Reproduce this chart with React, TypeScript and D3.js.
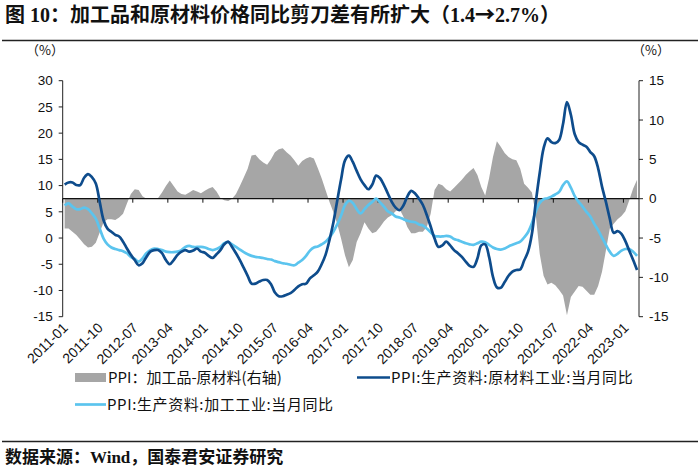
import React from "react";
import * as d3 from "d3";

// Monthly categories 2011-01 .. 2023-04
const months: string[] = d3
  .timeMonth.range(new Date(2011, 0, 1), new Date(2023, 4, 1))
  .map(d3.timeFormat("%Y-%m"));

const tickLabels = [
  "2011-01", "2011-10", "2012-07", "2013-04", "2014-01", "2014-10",
  "2015-07", "2016-04", "2017-01", "2017-10", "2018-07", "2019-04",
  "2020-01", "2020-10", "2021-07", "2022-04", "2023-01",
];

// PPI:生产资料:原材料工业:当月同比 (left axis)
const rawMaterial = [
  10.2, 10.6, 10.6, 10.1, 10.1, 11.5, 12.2, 11.6, 10.4, 6.9, 3.4, 1.8,
  1.2, 0.6, 0.3, -0.7, -2.0, -3.2, -4.2, -5.2, -4.8, -3.6, -2.6, -2.3,
  -2.3, -2.9, -4.2, -5.0, -4.2, -3.2, -2.6, -2.3, -2.6, -2.4, -2.0, -2.6,
  -2.8, -3.4, -3.8, -3.1, -2.3, -1.2, -0.7, -1.7, -2.9, -4.2, -5.7, -7.2,
  -8.7, -8.7, -8.3, -8.0, -8.0, -8.8, -10.4, -11.1, -11.1, -10.8, -10.5, -9.9,
  -9.2, -8.8, -8.7, -7.7, -7.1, -6.4, -5.0, -3.2, -0.4, 2.9, 7.1, 11.2,
  14.8, 15.7, 14.5, 12.8, 11.2, 10.1, 9.3, 10.2, 11.9, 11.4, 10.1, 8.5,
  6.9, 5.8, 5.3, 6.2, 7.9, 9.0, 8.5, 7.5, 6.3, 4.4, 2.2, -0.1,
  -1.7, -1.4, -0.7, -1.4, -2.3, -2.9, -3.6, -4.5, -5.3, -5.5, -3.9, -1.4,
  -1.2, -3.6, -7.4, -9.4, -9.5, -8.4, -7.2, -6.4, -6.1, -6.0, -4.3, -2.6,
  0.8, 6.9, 12.4, 17.1, 19.0, 18.3, 18.1, 18.7, 21.8, 25.9, 23.5, 19.8,
  18.3, 17.8, 17.4, 16.4, 15.6, 13.3, 9.8, 6.9, 3.7, 1.0, 1.3, 0.8,
  -0.6, -2.4, -4.2, -6.1,
];

// PPI:生产资料:加工工业:当月同比 (left axis)
const processing = [
  6.2, 6.6, 6.0, 5.5, 5.5, 5.8, 5.5, 4.7, 3.7, 1.8, -0.1, -1.2,
  -1.8, -2.1, -2.3, -2.5, -2.9, -3.6, -4.0, -4.5, -3.9, -2.9, -2.3, -2.0,
  -2.1, -2.3, -2.6, -2.7, -2.7, -2.6, -2.3, -1.7, -1.5, -1.7, -1.7, -1.7,
  -1.8, -2.1, -2.3, -2.1, -1.7, -1.0, -0.8, -1.2, -1.7, -2.2, -2.7, -3.1,
  -3.4, -3.6, -3.7, -3.8, -4.0, -4.1, -4.4, -4.6, -4.8, -4.9, -5.1, -5.2,
  -4.7, -4.2, -3.4, -2.4, -1.8, -1.6, -1.2, -0.7, 0.1, 1.2, 2.6, 4.3,
  6.3, 7.1, 6.7, 5.5, 4.7, 5.5, 6.3, 6.9, 7.5, 6.8, 6.0, 5.1,
  4.7, 4.1, 3.9, 3.6, 3.3, 3.1, 3.0, 2.6, 2.4, 1.8, 1.1, 0.4,
  0.3, 0.3, 0.4, 0.3, -0.2, -0.4, -0.7, -1.0, -1.2, -1.3, -1.0, -0.7,
  -0.8, -1.3, -1.8, -2.1, -2.2, -2.0, -1.6, -1.3, -1.0, -0.7, 0.1, 1.1,
  2.8, 5.1, 6.7, 7.4, 7.6, 7.9, 8.3, 8.8, 10.1, 10.8, 9.6, 8.0,
  6.9, 6.0, 5.0, 4.1, 2.7, 1.5, 0.1, -1.3, -2.6, -3.4, -3.0, -2.4,
  -2.1, -2.1, -2.6, -3.4,
];

// PPI：加工品-原材料 (right axis)
const spread = [
  -3.8, -3.8, -4.2, -4.6, -5.2, -5.8, -6.2, -6.1, -5.6, -4.3, -3.0, -2.6,
  -2.6, -2.7, -2.4, -1.9, -0.6, 0.6, 1.2, 1.1, 0.3, 0.0, 0.0, 0.0,
  0.1, 0.8, 1.6, 2.3, 1.6, 0.9, 0.6, 0.5, 0.8, 1.1, 0.9, 0.7,
  1.0, 1.3, 1.5, 0.9, 0.1, -0.2, -0.3, 0.0, 0.6, 1.6, 2.7, 3.8,
  5.5, 5.6, 5.0, 4.6, 4.3, 5.0, 5.9, 6.3, 6.4, 5.9, 5.5, 4.9,
  4.2, 4.8, 5.1, 5.3, 5.1, 3.9, 2.6, 1.1, -0.4, -1.7, -3.2, -5.1,
  -7.2, -8.7, -7.8, -5.5, -4.4, -3.0, -3.8, -4.4, -4.2, -3.6, -2.9, -2.4,
  -2.1, -1.6, -1.3, -2.3, -3.6, -4.4, -4.4, -4.2, -4.2, -3.6, -1.9, 1.1,
  1.9, 1.7, 1.2, 0.9, 1.4, 1.9, 2.4, 3.0, 3.5, 3.9, 3.0, 1.5,
  0.4, 2.6, 5.3, 7.3, 6.6, 5.8, 5.3, 5.0, 4.9, 3.8, 1.9, 1.4,
  0.8, -2.1, -7.0, -9.8, -10.9, -10.7, -11.0, -11.6, -12.3, -14.8, -12.5, -11.8,
  -11.1, -11.2, -11.7, -12.2, -12.2, -11.1, -9.3, -6.6, -3.8, -3.2, -2.6, -2.2,
  -1.6, -0.2, 1.3, 2.4,
];

const leftTicks = [30, 25, 20, 15, 10, 5, 0, -5, -10, -15];
const rightTicks = [15, 10, 5, 0, -5, -10, -15];

const W = 700;
const H = 467;
const plotLeft = 62.7;
const plotRight = 639;
const plotTop = 80.7;
const plotBottom = 316.7;

const DARK = "#0E4C8C";
const LIGHT = "#5BC4EE";
const GRAY = "#A6A6A6";

const axisFont = "'Liberation Sans', Arial, sans-serif";
const cjkFont = "'Noto Sans CJK SC', sans-serif";
const titleFont = "'Liberation Serif', 'Noto Sans CJK SC', serif";

export default function App() {
  const x = d3.scaleBand<string>().domain(months).range([plotLeft, plotRight]).paddingInner(0).paddingOuter(0);
  const bw = x.bandwidth();
  const cx = (i: number) => (x(months[i]) as number) + bw / 2;
  const yL = d3.scaleLinear().domain([-15, 30]).range([plotBottom, plotTop]);
  const yR = d3.scaleLinear().domain([-15, 15]).range([plotBottom, plotTop]);
  const zeroY = yR(0);

  const area = d3
    .area<number>()
    .x((_, i) => cx(i))
    .y0(() => yR(0))
    .y1((d) => yR(d))
    .curve(d3.curveLinear);

  const line = d3
    .line<number>()
    .x((_, i) => cx(i))
    .y((d) => yL(d))
    .curve(d3.curveCatmullRom.alpha(0.5));

  return (
    <svg
      width={W}
      height={H}
      viewBox={`0 0 ${W} ${H}`}
      style={{ position: "fixed", left: 0, top: 0, background: "#fff" }}
    >
      <rect x={0} y={0} width={W} height={H} fill="#fff" />
      {/* Title */}
      <text x={5} y={21.5} fontFamily={titleFont} fontWeight={700} fontSize={20} fill="#111">
        图 10：加工品和原材料价格同比剪刀差有所扩大（1.4
        <tspan fontFamily={cjkFont} fontWeight={900}>→</tspan>
        2.7%）
      </text>
      <line x1={2} x2={698} y1={40.5} y2={40.5} stroke="#222" strokeWidth={1.6} />

      {/* Unit labels */}
      <text x={45} y={55} textAnchor="middle" fontFamily={cjkFont} fontSize={13} fill="#111">（%）</text>
      <text x={651} y={55} textAnchor="middle" fontFamily={cjkFont} fontSize={13} fill="#111">（%）</text>

      {/* Spread area (right axis) */}
      <path d={area(spread) || ""} fill={GRAY} stroke="none" />

      {/* Left axis */}
      <line x1={plotLeft} x2={plotLeft} y1={plotTop} y2={plotBottom} stroke="#222" strokeWidth={1} />
      {leftTicks.map((t) => (
        <g key={"l" + t}>
          <line x1={plotLeft - 4} x2={plotLeft} y1={yL(t)} y2={yL(t)} stroke="#222" strokeWidth={1} />
          <text
            x={plotLeft - 10}
            y={yL(t)}
            dy="0.35em"
            textAnchor="end"
            fontFamily={axisFont}
            fontSize={13.5}
            fill="#111"
          >
            {t}
          </text>
        </g>
      ))}

      {/* Right axis */}
      <line x1={plotRight} x2={plotRight} y1={plotTop} y2={plotBottom} stroke="#222" strokeWidth={1} />
      {rightTicks.map((t) => (
        <g key={"r" + t}>
          <line x1={plotRight} x2={plotRight + 4} y1={yR(t)} y2={yR(t)} stroke="#222" strokeWidth={1} />
          <text
            x={plotRight + 10}
            y={yR(t)}
            dy="0.35em"
            textAnchor="start"
            fontFamily={axisFont}
            fontSize={13.5}
            fill="#111"
          >
            {t}
          </text>
        </g>
      ))}

      {/* Category axis on zero line */}
      <line x1={plotLeft} x2={plotRight} y1={zeroY} y2={zeroY} stroke="#111" strokeWidth={1.3} />
      {tickLabels.map((m) => {
        const tx = x(m) as number;
        return (
          <g key={m}>
            <line x1={tx} x2={tx} y1={zeroY} y2={zeroY + 4} stroke="#111" strokeWidth={1} />
            <text
              transform={`translate(${tx + 6},${plotBottom + 12}) rotate(-45)`}
              textAnchor="end"
              fontFamily={axisFont}
              fontSize={14}
              fill="#111"
            >
              {m}
            </text>
          </g>
        );
      })}

      {/* Lines */}
      <path d={line(processing) || ""} fill="none" stroke={LIGHT} strokeWidth={2.7} strokeLinejoin="round" />
      <path d={line(rawMaterial) || ""} fill="none" stroke={DARK} strokeWidth={2.7} strokeLinejoin="round" />

      {/* Legend */}
      <rect x={75} y={373} width={31} height={9} fill={GRAY} />
      <text x={108} y={383} fontFamily={cjkFont} fontSize={15} fill="#111">PPI：加工品-原材料(右轴)</text>
      <line x1={357} x2={390} y1={377.5} y2={377.5} stroke={DARK} strokeWidth={2.7} />
      <text x={391} y={383} fontFamily={cjkFont} fontSize={15} letterSpacing={0.6} fill="#111">PPI:生产资料:原材料工业:当月同比</text>
      <line x1={75} x2={106} y1={404.5} y2={404.5} stroke={LIGHT} strokeWidth={2.7} />
      <text x={107} y={410} fontFamily={cjkFont} fontSize={15} letterSpacing={0.6} fill="#111">PPI:生产资料:加工工业:当月同比</text>

      {/* Footer */}
      <line x1={2} x2={698} y1={441.5} y2={441.5} stroke="#222" strokeWidth={1.6} />
      <text x={5} y={463} fontFamily={titleFont} fontWeight={700} fontSize={17} fill="#111">
        数据来源：Wind，国泰君安证券研究
      </text>
    </svg>
  );
}
